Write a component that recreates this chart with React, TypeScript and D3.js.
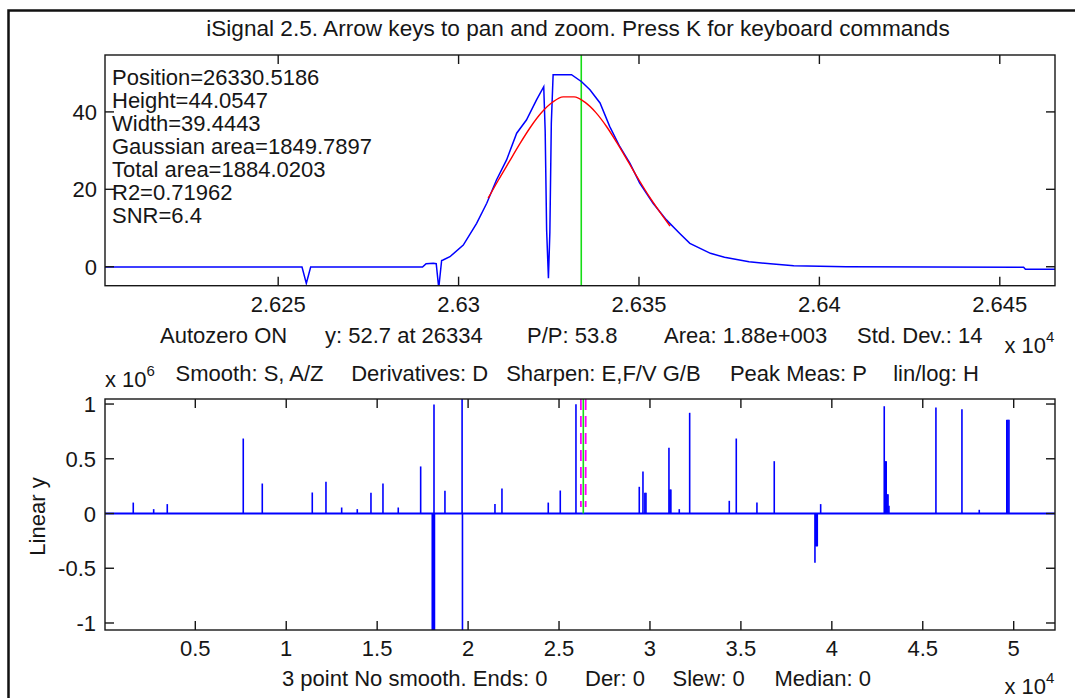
import React from "react";
import * as d3 from "d3";

// ---------- text ----------
const titleText = "iSignal 2.5. Arrow keys to pan and zoom. Press K for keyboard commands";
const peakStats = [
  "Position=26330.5186",
  "Height=44.0547",
  "Width=39.4443",
  "Gaussian area=1849.7897",
  "Total area=1884.0203",
  "R2=0.71962",
  "SNR=6.4",
];

// ---------- top panel (zoomed signal) ----------
const topDomainX = [26202, 26465.3];
const topDomainY = [-4.9, 54.7];
const topTickX = [26250, 26300, 26350, 26400, 26450];
const topTickXLabels = ["2.625", "2.63", "2.635", "2.64", "2.645"];
const topTickY = [0, 20, 40];
const topTickYLabels = ["0", "20", "40"];

const signalX = [
  26202, 26256.6, 26257.8, 26259, 26290, 26291, 26293, 26293.8, 26294.5, 26295.3,
  26295.7, 26297.6, 26301.3, 26305.0, 26307.8, 26310.5, 26313.3, 26316.1, 26318.8,
  26321.6, 26323.6, 26324.0, 26324.4, 26324.9, 26325.3, 26325.7, 26326.2, 26331.3,
  26334.1, 26336.4, 26339.2, 26341.9, 26344.7, 26347.5, 26350.2, 26353.9, 26357.6,
  26361.3, 26364.1, 26369.8, 26373.7, 26380.5, 26387.2, 26392.9, 26407.4, 26456.6,
  26457.1, 26465.3,
];
const signalY = [
  -0.1, -0.1, -4.3, -0.1, -0.1, 0.8, 0.9, 0.8, -5.5, 1.6,
  1.73, 2.59, 5.61, 11.22, 16.4, 22.4, 27.6, 34.5, 37.9,
  43.1, 46.5, 35, 9.5, -3, 9, 37, 49.6, 49.6,
  47.8, 45.7, 42.3, 36.2, 31.0, 26.7, 21.6, 16.4, 12.1,
  8.6, 6.05, 3.47, 2.43, 1.29, 0.7, 0.26, 0, -0.15,
  -0.67, -0.67,
];

const fitX = [
  26308.2, 26311, 26314, 26317, 26320, 26323, 26326, 26329, 26332, 26335,
  26338, 26341, 26344, 26347, 26350, 26353, 26356, 26358.6,
];
const fitY = [
  17.7, 22.34, 27.09, 31.81, 36.17, 39.83, 42.48, 43.87, 43.88, 42.51,
  39.87, 36.23, 31.87, 27.15, 22.41, 17.91, 13.86, 10.5,
];
const cursorX = 26334;

// ---------- bottom panel (whole signal, derivative-like spikes) ----------
const botDomainX = [35, 52271];
const botDomainY = [-1.064, 1.046];
const botTickX = [5000, 10000, 15000, 20000, 25000, 30000, 35000, 40000, 45000, 50000];
const botTickXLabels = ["0.5", "1", "1.5", "2", "2.5", "3", "3.5", "4", "4.5", "5"];
const botTickY = [-1, -0.5, 0, 0.5, 1];
const botTickYLabels = ["-1", "-0.5", "0", "0.5", "1"];

const spikeX = [
  1589, 2711, 3459, 7637, 8683, 11432, 12185, 13048, 13906, 14659, 15319, 16160, 17392,
  18030, 18070, 18110, 18150, 18125, 18727, 19670, 19690, 21477, 21862, 24408, 25068, 25931,
  29412, 29615, 29720, 29780, 31044, 31100, 31150, 31611, 32183, 34361, 34746,
  35882, 36834, 39072, 39120, 39160, 39200, 39386,
  42882, 42940, 42990, 43040, 43090, 43140, 45724, 47154, 48106, 49620, 49680, 49740,
];
const spikeY = [
  0.1, 0.04, 0.086, 0.685, 0.274, 0.192, 0.29, 0.055, 0.04, 0.19, 0.274, 0.055, 0.43,
  -1.3, -1.3, -1.3, -1.3, 0.995, 0.207, 1.5, -1.5, 0.086, 0.228, 0.1, 0.21, 0.998,
  0.244, 0.384, 0.19, 0.19, 0.6, 0.22, 0.22, 0.04, 0.92, 0.116, 0.685,
  0.1, 0.478, -0.45, -0.3, -0.3, -0.3, 0.086,
  0.98, 0.478, 0.478, 0.177, 0.177, 0.07, 0.968, 0.953, 0.034, 0.856, 0.856, 0.856,
];

const FONT = "'Liberation Sans', Arial, Helvetica, sans-serif";
const INK = "#161616";
const FS = 22;

export default function App() {
  const topL = 105, topR = 1055, topT = 55, topB = 285.7;
  const botT = 399, botB = 630;

  const xTop = d3.scaleLinear().domain(topDomainX).range([topL, topR]);
  const yTop = d3.scaleLinear().domain(topDomainY).range([topB, topT]);
  const xBot = d3.scaleLinear().domain(botDomainX).range([topL, topR]);
  const yBot = d3.scaleLinear().domain(botDomainY).range([botB, botT]);

  const signalPath = d3
    .line<number>()
    .x((_, i) => xTop(signalX[i]))
    .y((d) => yTop(d))(signalY) as string;
  const fitPath = d3
    .line<number>()
    .x((_, i) => xTop(fitX[i]))
    .y((d) => yTop(d))
    .curve(d3.curveMonotoneX)(fitY) as string;

  const tick = 9;

  const axisBox = (t: number, b: number) => (
    <rect x={topL} y={t} width={topR - topL} height={b - t} fill="none" stroke={INK} strokeWidth={1.4} />
  );

  return (
    <svg
      width={1075}
      height={698}
      style={{ position: "fixed", left: 0, top: 0, background: "#fff" }}
      fontFamily={FONT}
    >
      <defs>
        <clipPath id="clipTop">
          <rect x={topL} y={topT} width={topR - topL} height={topB - topT} />
        </clipPath>
        <clipPath id="clipBot">
          <rect x={topL} y={botT} width={topR - topL} height={botB - botT} />
        </clipPath>
      </defs>
      <rect x={0} y={0} width={1075} height={698} fill="#fff" />
      {/* outer window frame */}
      <rect x={8.5} y={10.5} width={1200} height={1000} fill="none" stroke="#111" strokeWidth={2.5} />

      {/* title */}
      <text x={578} y={36} fontSize={22.6} fill={INK} textAnchor="middle">
        {titleText}
      </text>

      {/* ---------- top panel ---------- */}
      <g clipPath="url(#clipTop)">
        <line x1={xTop(cursorX)} x2={xTop(cursorX)} y1={topT} y2={topB} stroke="#16dd16" strokeWidth={1.6} />
        <path d={signalPath} fill="none" stroke="#0000ff" strokeWidth={1.5} />
        <path d={fitPath} fill="none" stroke="#ff0000" strokeWidth={1.4} />
      </g>
      {axisBox(topT, topB)}
      {topTickX.map((v, i) => (
        <g key={"tx" + i}>
          <line x1={xTop(v)} x2={xTop(v)} y1={topB} y2={topB - tick} stroke={INK} strokeWidth={1.4} />
          <line x1={xTop(v)} x2={xTop(v)} y1={topT} y2={topT + tick} stroke={INK} strokeWidth={1.4} />
          <text x={xTop(v)} y={312} fontSize={FS} fill={INK} textAnchor="middle">
            {topTickXLabels[i]}
          </text>
        </g>
      ))}
      {topTickY.map((v, i) => (
        <g key={"ty" + i}>
          <line x1={topL} x2={topL + tick} y1={yTop(v)} y2={yTop(v)} stroke={INK} strokeWidth={1.4} />
          <line x1={topR} x2={topR - tick} y1={yTop(v)} y2={yTop(v)} stroke={INK} strokeWidth={1.4} />
          <text x={97} y={yTop(v) + 8} fontSize={FS} fill={INK} textAnchor="end">
            {topTickYLabels[i]}
          </text>
        </g>
      ))}
      {peakStats.map((s, i) => (
        <text key={"ps" + i} x={112} y={85 + i * 22.95} fontSize={FS} fill={INK}>
          {s}
        </text>
      ))}

      {/* top x label row */}
      <g fontSize={FS} fill={INK}>
        <text x={160} y={343}>Autozero ON</text>
        <text x={325} y={343}>y: 52.7 at 26334</text>
        <text x={527} y={343}>P/P: 53.8</text>
        <text x={664} y={343}>Area: 1.88e+003</text>
        <text x={857} y={343}>Std. Dev.: 14</text>
        <text x={1004.5} y={353}>
          x 10<tspan fontSize={15} dy={-11}>4</tspan>
        </text>
      </g>

      {/* bottom title row */}
      <g fontSize={FS} fill={INK}>
        <text x={105} y={387}>
          x 10<tspan fontSize={15} dy={-11}>6</tspan>
        </text>
        <text x={175.6} y={381}>Smooth: S, A/Z</text>
        <text x={351.2} y={381}>Derivatives: D</text>
        <text x={506.2} y={381}>Sharpen: E,F/V G/B</text>
        <text x={729.9} y={381}>Peak Meas: P</text>
        <text x={893.2} y={381}>lin/log: H</text>
      </g>

      {/* ---------- bottom panel ---------- */}
      <g clipPath="url(#clipBot)">
        <line x1={topL} x2={topR} y1={yBot(0)} y2={yBot(0)} stroke="#0000ff" strokeWidth={2} />
        {spikeX.map((v, i) => (
          <line
            key={"sp" + i}
            x1={xBot(v)}
            x2={xBot(v)}
            y1={yBot(0)}
            y2={yBot(spikeY[i])}
            stroke="#0000ff"
            strokeWidth={1.6}
          />
        ))}
        <line x1={xBot(cursorX)} x2={xBot(cursorX)} y1={botT} y2={yBot(0)} stroke="#16dd16" strokeWidth={1.6} />
        {topDomainX.map((v, i) => (
          <line
            key={"mk" + i}
            x1={xBot(v)}
            x2={xBot(v)}
            y1={botT}
            y2={507}
            stroke="#ff00ff"
            strokeWidth={1.8}
            strokeDasharray="11 6"
          />
        ))}
      </g>
      {axisBox(botT, botB)}
      {botTickX.map((v, i) => (
        <g key={"bx" + i}>
          <line x1={xBot(v)} x2={xBot(v)} y1={botB} y2={botB - tick} stroke={INK} strokeWidth={1.4} />
          <line x1={xBot(v)} x2={xBot(v)} y1={botT} y2={botT + tick} stroke={INK} strokeWidth={1.4} />
          <text x={xBot(v)} y={656} fontSize={FS} fill={INK} textAnchor="middle">
            {botTickXLabels[i]}
          </text>
        </g>
      ))}
      {botTickY.map((v, i) => (
        <g key={"by" + i}>
          <line x1={topL} x2={topL + tick} y1={yBot(v)} y2={yBot(v)} stroke={INK} strokeWidth={1.4} />
          <line x1={topR} x2={topR - tick} y1={yBot(v)} y2={yBot(v)} stroke={INK} strokeWidth={1.4} />
          <text x={96} y={yBot(v) + 8} fontSize={FS} fill={INK} textAnchor="end">
            {botTickYLabels[i]}
          </text>
        </g>
      ))}
      <text
        transform="translate(45,516.5) rotate(-90)"
        fontSize={FS}
        fill={INK}
        textAnchor="middle"
      >
        Linear y
      </text>

      {/* bottom x label row */}
      <g fontSize={FS} fill={INK}>
        <text x={282} y={686}>3 point No smooth. Ends: 0</text>
        <text x={585} y={686}>Der: 0</text>
        <text x={672.5} y={686}>Slew: 0</text>
        <text x={774.4} y={686}>Median: 0</text>
        <text x={1004.5} y={694}>
          x 10<tspan fontSize={15} dy={-11}>4</tspan>
        </text>
      </g>
    </svg>
  );
}
